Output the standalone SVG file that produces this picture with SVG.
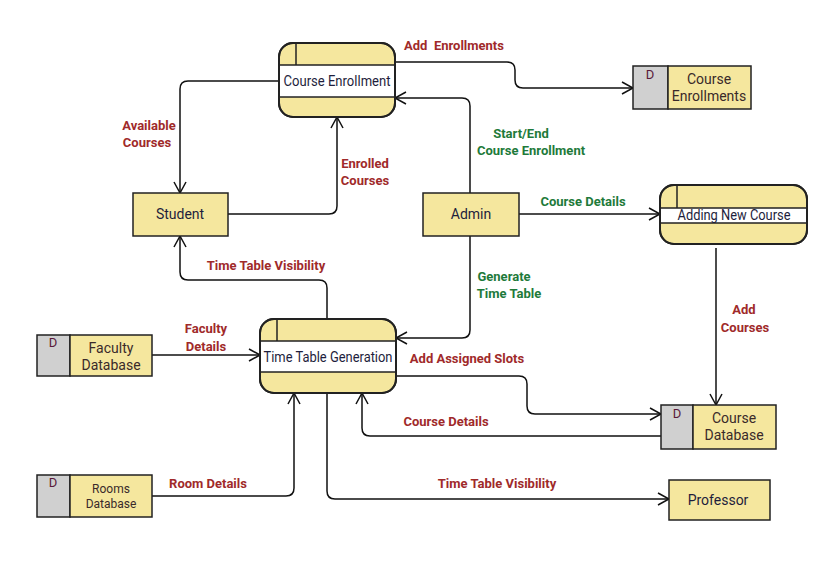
<svg xmlns="http://www.w3.org/2000/svg" width="838" height="564" viewBox="0 0 838 564">
<style>
.bg{fill:#ffffff}
.proc{fill:#f5e79e;stroke:#222;stroke-width:2}
.band{fill:#ffffff;stroke:#222;stroke-width:1.5}
.sep{stroke:#222;stroke-width:1.5}
.ent{fill:#f5e79e;stroke:#222;stroke-width:1.5}
.dgray{fill:#d0d0d0;stroke:#222;stroke-width:1.5}
.dyel{fill:#f5e79e;stroke:#222;stroke-width:1.5}
.nt{font-family:Roboto,"Liberation Sans",sans-serif;font-size:14px;fill:#1e1e3c;text-anchor:middle}
.st{font-family:Roboto,"Liberation Sans",sans-serif;font-size:14px;fill:#3a2a2a;text-anchor:middle}
.dl{font-family:Roboto,"Liberation Sans",sans-serif;font-size:13px;fill:#5a1a3a;text-anchor:middle}
.lr{font-family:Roboto,"Liberation Sans",sans-serif;font-size:13px;font-weight:bold;fill:#a02a2a;text-anchor:middle}
.lg{font-family:Roboto,"Liberation Sans",sans-serif;font-size:13px;font-weight:bold;fill:#1e7a3a;text-anchor:middle}
.c{fill:none;stroke:#111;stroke-width:1.5}
</style>
<defs>
<marker id="arr" markerWidth="14" markerHeight="14" refX="12" refY="7" orient="auto" markerUnits="userSpaceOnUse">
<path d="M1,1 L12,7 L1,13" fill="none" stroke="#111" stroke-width="1.5"/>
</marker>
</defs>
<rect class="bg" x="0" y="0" width="838" height="564"/>

<g id="connectors">
<path class="c" d="M279,81 H188 Q180,81 180,89 V193" marker-end="url(#arr)"/>
<path class="c" d="M228,214 H329 Q337,214 337,206 V117" marker-end="url(#arr)"/>
<path class="c" d="M395,62 H507 Q515,62 515,70 V80 Q515,88 523,88 H633" marker-end="url(#arr)"/>
<path class="c" d="M470,193 V106 Q470,98 462,98 H395" marker-end="url(#arr)"/>
<path class="c" d="M519,214 H660" marker-end="url(#arr)"/>
<path class="c" d="M470,236 V330 Q470,338 462,338 H396" marker-end="url(#arr)"/>
<path class="c" d="M327,319 V288 Q327,280 319,280 H188 Q180,280 180,272 V236" marker-end="url(#arr)"/>
<path class="c" d="M152,355 H260" marker-end="url(#arr)"/>
<path class="c" d="M716,248 V405" marker-end="url(#arr)"/>
<path class="c" d="M396,376 H519 Q527,376 527,384 V406 Q527,414 535,414 H661" marker-end="url(#arr)"/>
<path class="c" d="M661,436 H370 Q362,436 362,428 V393" marker-end="url(#arr)"/>
<path class="c" d="M152,496 H286 Q294,496 294,488 V393" marker-end="url(#arr)"/>
<path class="c" d="M327,393 V491 Q327,499 335,499 H669" marker-end="url(#arr)"/>

<text class="lr" x="149" y="130">Available</text>
<text class="lr" x="147" y="147">Courses</text>
<text class="lr" x="365" y="168">Enrolled</text>
<text class="lr" x="365" y="185">Courses</text>
<text class="lr" x="454" y="50" style="white-space:pre">Add  Enrollments</text>
<text class="lg" x="521" y="138">Start/End</text>
<text class="lg" x="531" y="155">Course Enrollment</text>
<text class="lg" x="583" y="206">Course Details</text>
<text class="lg" x="504" y="281">Generate</text>
<text class="lg" x="509" y="298">Time Table</text>
<text class="lr" x="266" y="270">Time Table Visibility</text>
<text class="lr" x="206" y="333">Faculty</text>
<text class="lr" x="206" y="351">Details</text>
<text class="lr" x="744" y="314">Add</text>
<text class="lr" x="745" y="332">Courses</text>
<text class="lr" x="467" y="363">Add Assigned Slots</text>
<text class="lr" x="446" y="426">Course Details</text>
<text class="lr" x="208" y="488">Room Details</text>
<text class="lr" x="497" y="488">Time Table Visibility</text>
</g>

<g id="course-enrollment">
<rect class="proc" x="279" y="43" width="116" height="74" rx="14"/>
<rect class="band" x="279" y="65" width="116" height="32"/>
<line class="sep" x1="296" y1="43" x2="296" y2="65"/>
<rect x="279" y="43" width="116" height="74" rx="14" fill="none" stroke="#222" stroke-width="2"/>
<text class="nt" x="337" y="86" textLength="107" lengthAdjust="spacingAndGlyphs">Course Enrollment</text>
</g>

<g id="course-enrollments-store">
<rect class="dgray" x="633" y="66" width="35" height="43"/>
<rect class="dyel" x="668" y="66" width="83" height="43"/>
<text class="dl" x="650" y="79">D</text>
<text class="st" x="709" y="84">Course</text>
<text class="st" x="709" y="101">Enrollments</text>
</g>

<g id="student">
<rect class="ent" x="133" y="193" width="95" height="43"/>
<text class="nt" x="180" y="219">Student</text>
</g>

<g id="admin">
<rect class="ent" x="423" y="193" width="96" height="43"/>
<text class="nt" x="471" y="219">Admin</text>
</g>

<g id="adding-new-course">
<rect class="proc" x="660" y="185" width="147" height="59" rx="14"/>
<rect class="band" x="660" y="208" width="147" height="15"/>
<line class="sep" x1="677" y1="185" x2="677" y2="208"/>
<rect x="660" y="185" width="147" height="59" rx="14" fill="none" stroke="#222" stroke-width="2"/>
<text class="nt" x="734" y="220" textLength="113" lengthAdjust="spacingAndGlyphs">Adding New Course</text>
</g>

<g id="time-table-generation">
<rect class="proc" x="260" y="319" width="136" height="74" rx="14"/>
<rect class="band" x="260" y="341" width="136" height="31"/>
<line class="sep" x1="277" y1="319" x2="277" y2="341"/>
<rect x="260" y="319" width="136" height="74" rx="14" fill="none" stroke="#222" stroke-width="2"/>
<text class="nt" x="328" y="362" textLength="129" lengthAdjust="spacingAndGlyphs">Time Table Generation</text>
</g>

<g id="faculty-database">
<rect class="dgray" x="37" y="335" width="33" height="41"/>
<rect class="dyel" x="70" y="335" width="82" height="41"/>
<text class="dl" x="53" y="347">D</text>
<text class="st" x="111" y="353">Faculty</text>
<text class="st" x="111" y="370">Database</text>
</g>

<g id="rooms-database">
<rect class="dgray" x="37" y="475" width="33" height="42"/>
<rect class="dyel" x="70" y="475" width="82" height="42"/>
<text class="dl" x="53" y="487">D</text>
<text class="st" x="111" y="493" style="font-size:12px">Rooms</text>
<text class="st" x="111" y="508" style="font-size:12px">Database</text>
</g>

<g id="course-database">
<rect class="dgray" x="661" y="405" width="32" height="44"/>
<rect class="dyel" x="693" y="405" width="83" height="44"/>
<text class="dl" x="677" y="418">D</text>
<text class="st" x="734" y="423">Course</text>
<text class="st" x="734" y="440">Database</text>
</g>

<g id="professor">
<rect class="ent" x="669" y="480" width="101" height="40"/>
<text class="nt" x="718" y="505">Professor</text>
</g>
</svg>
